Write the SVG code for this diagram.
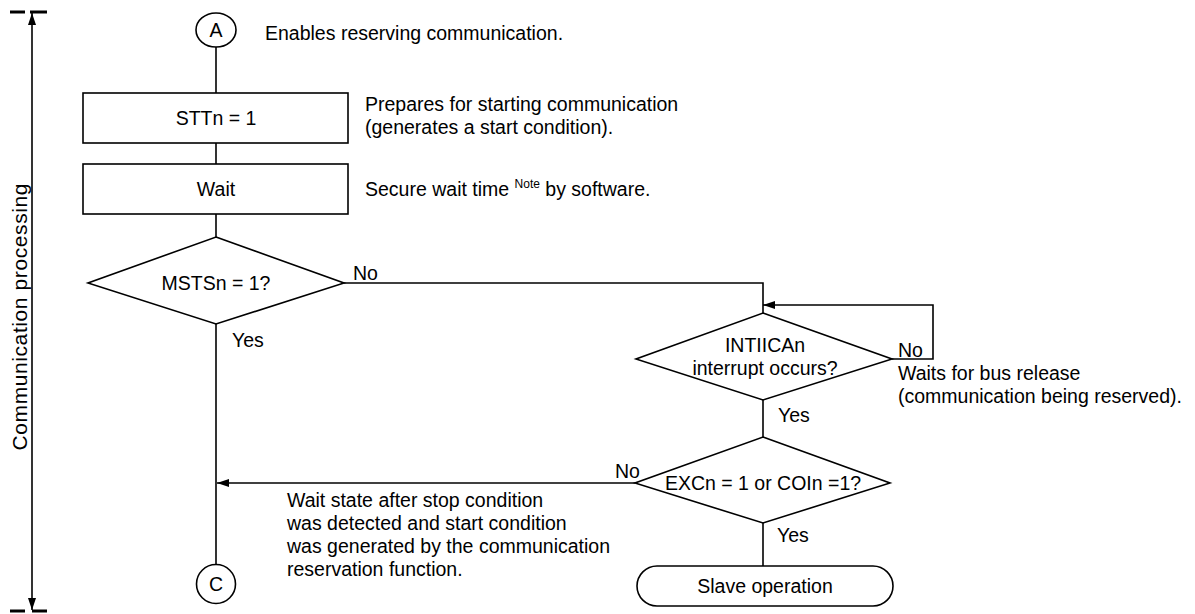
<svg xmlns="http://www.w3.org/2000/svg" width="1195" height="614" viewBox="0 0 1195 614">
<style>
text{font-family:"Liberation Sans",Arial,sans-serif;font-size:19.5px;fill:#000}
.c{text-anchor:middle}
.s{fill:#fff;stroke:#000;stroke-width:1.6}
.ln{fill:none;stroke:#000;stroke-width:1.6}
.tk{stroke:#000;stroke-width:3}
</style>
<defs>
<marker id="ah" viewBox="0 0 12 8" refX="12" refY="4" markerWidth="12" markerHeight="8" markerUnits="userSpaceOnUse" orient="auto">
<path d="M0,0 L12,4 L0,8 Z" fill="#000"/>
</marker>
</defs>
<rect width="1195" height="614" fill="#fff"/>
<g id="bracket">
<line class="tk" x1="10" y1="12" x2="25" y2="12"/>
<line class="tk" x1="30" y1="12" x2="47" y2="12"/>
<line class="tk" x1="10" y1="611" x2="25" y2="611"/>
<line class="tk" x1="32" y1="611" x2="47" y2="611"/>
<line class="ln" x1="32" y1="311" x2="32" y2="13" marker-end="url(#ah)"/>
<line class="ln" x1="32" y1="311" x2="32" y2="610" marker-end="url(#ah)"/>
<text class="c" transform="translate(27,317) rotate(-90)" textLength="267" style="font-size:21px">Communication processing</text>
</g>
<g id="connectors">
<line class="ln" x1="216" y1="47" x2="216" y2="93"/>
<line class="ln" x1="216" y1="143" x2="216" y2="164"/>
<line class="ln" x1="216" y1="214" x2="216" y2="237"/>
<line class="ln" x1="216" y1="324" x2="216" y2="565"/>
<polyline class="ln" points="344,283 763,283 763,313"/>
<polyline class="ln" points="892,359 933,359 933,305 763,305" marker-end="url(#ah)"/>
<line class="ln" x1="763" y1="400" x2="763" y2="437"/>
<line class="ln" x1="635" y1="483" x2="217" y2="483" marker-end="url(#ah)"/>
<line class="ln" x1="763" y1="523" x2="763" y2="566"/>
</g>
<g id="nodeA">
<ellipse class="s" cx="216" cy="30" rx="20" ry="17"/>
<text class="c" x="216" y="37">A</text>
</g>
<g id="nodeSTT">
<rect class="s" x="83" y="93" width="265" height="50"/>
<text class="c" x="216" y="125">STTn = 1</text>
</g>
<g id="nodeWait">
<rect class="s" x="83" y="164" width="265" height="50"/>
<text class="c" x="216" y="196">Wait</text>
</g>
<g id="nodeMSTS">
<polygon class="s" points="216,237 344,283 216,324 88,283"/>
<text class="c" x="216" y="290">MSTSn = 1?</text>
</g>
<g id="nodeINT">
<polygon class="s" points="763,313 892,359 763,400 636,359"/>
<text class="c" x="765" y="352">INTIICAn</text>
<text class="c" x="765" y="375">interrupt occurs?</text>
</g>
<g id="nodeEXC">
<polygon class="s" points="763,437 890,483 763,523 635,483"/>
<text class="c" x="763" y="490">EXCn = 1 or COIn =1?</text>
</g>
<g id="nodeSlave">
<rect class="s" x="637" y="566" width="256" height="40" rx="20" ry="20"/>
<text class="c" x="765" y="593">Slave operation</text>
</g>
<g id="nodeC">
<circle class="s" cx="216" cy="584" r="19.5"/>
<text class="c" x="216" y="591">C</text>
</g>
<g id="labels">
<text x="265" y="40">Enables reserving communication.</text>
<text x="365" y="111">Prepares for starting communication</text>
<text x="365" y="134">(generates a start condition).</text>
<text x="365" y="196">Secure wait time <tspan style="font-size:12px" dy="-8">Note</tspan><tspan dy="8"> by software.</tspan></text>
<text x="353" y="280">No</text>
<text x="232" y="347">Yes</text>
<text x="898" y="357">No</text>
<text x="898" y="380">Waits for bus release</text>
<text x="898" y="403">(communication being reserved).</text>
<text x="778" y="422">Yes</text>
<text x="615" y="478">No</text>
<text x="777" y="542">Yes</text>
<text x="287" y="507">Wait state after stop condition</text>
<text x="287" y="530">was detected and start condition</text>
<text x="287" y="553">was generated by the communication</text>
<text x="287" y="576">reservation function.</text>
</g>
</svg>
